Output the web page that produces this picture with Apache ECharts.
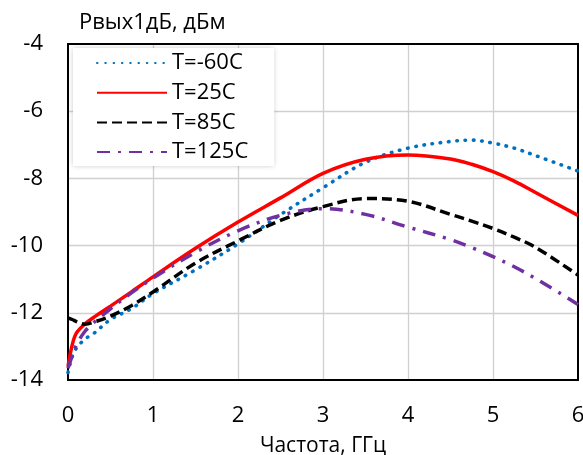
<!DOCTYPE html>
<html>
<head>
<meta charset="utf-8">
<script src="https://cdn.jsdelivr.net/npm/echarts@6/dist/echarts.min.js"></script>
<style>
  html, body { margin: 0; padding: 0; background: #fff; }
  #chart { width: 583px; height: 455px; }
</style>
</head>
<body>
<div id="chart"></div>
<script>
// Frequency points, GHz
const freq = [0, 0.05, 0.1, 0.2, 0.3, 0.5, 0.75, 1, 1.5, 2, 2.5, 3, 3.5, 4, 4.5, 4.75, 5, 5.25, 5.5, 6];

// Output 1 dB compression point, dBm, per temperature
const pMinus60 = [-13.78, -13.3, -13.05, -12.78, -12.62, -12.2, -11.87, -11.43, -10.72, -9.95, -9.08, -8.28, -7.52, -7.1, -6.9, -6.86, -6.95, -7.1, -7.32, -7.78];
const p25      = [-13.6, -12.95, -12.6, -12.33, -12.14, -11.8, -11.37, -10.93, -10.08, -9.3, -8.58, -7.85, -7.43, -7.3, -7.42, -7.58, -7.8, -8.08, -8.42, -9.1];
const p85      = [-12.15, -12.2, -12.26, -12.34, -12.28, -12.1, -11.78, -11.38, -10.52, -9.86, -9.25, -8.84, -8.6, -8.68, -9.07, -9.27, -9.49, -9.75, -10.05, -10.88];
const p125     = [-13.65, -13.28, -12.95, -12.55, -12.3, -11.88, -11.4, -10.97, -10.2, -9.56, -9.1, -8.9, -9.07, -9.45, -9.82, -10.06, -10.33, -10.63, -10.98, -11.75];

const seriesNames = ['T=-60C', 'T=25C', 'T=85C', 'T=125C'];
const xTicks = [0, 1, 2, 3, 4, 5, 6];
const yTicks = [-14, -12, -10, -8, -6, -4];

const FONT = 'Open Sans';
const pairs = (ys) => freq.map((x, i) => [x, ys[i]]);

const chart = echarts.init(document.getElementById('chart'), null, { renderer: 'canvas' });

// Plain black frame lines on the top and right edges of the plot
const frameAxis = {
  show: true,
  axisLine: { show: true, onZero: false, lineStyle: { color: '#000', width: 2 } },
  axisTick: { show: false },
  axisLabel: { show: false },
  splitLine: { show: false }
};

chart.setOption({
  animation: false,
  backgroundColor: '#fff',
  title: {
    text: 'Рвых1дБ, дБм',
    left: 74, top: 7,
    textStyle: { fontFamily: FONT, fontSize: 22, fontWeight: 'normal', color: '#000' }
  },
  grid: { left: 68, right: 5, top: 44, bottom: 75, containLabel: false, outerBoundsMode: 'none' },
  legend: {
    orient: 'vertical',
    left: 73, top: 48,
    padding: [4, 26, 3, 23],
    itemWidth: 70, itemHeight: 22, itemGap: 7.7,
    backgroundColor: '#fff',
    shadowBlur: 5, shadowColor: 'rgba(0,0,0,0.25)',
    itemStyle: { opacity: 0 },
    textStyle: { fontFamily: FONT, fontSize: 22, color: '#000' },
    data: seriesNames
  },
  xAxis: [
    {
      type: 'value', min: 0, max: 6, interval: 1,
      name: 'Частота, ГГц', nameLocation: 'middle', nameGap: 56,
      nameTextStyle: { fontFamily: FONT, fontSize: 21, color: '#000' },
      axisLine: { show: true, onZero: false, lineStyle: { color: '#000', width: 2 } },
      axisTick: { show: false },
      axisLabel: { fontFamily: FONT, fontSize: 22, color: '#000', margin: 25,
                   formatter: (v) => xTicks.includes(v) ? String(v) : '' },
      splitLine: { show: true, showMinLine: false, showMaxLine: false,
                   lineStyle: { color: '#d0d0d0', width: 1.3 } }
    },
    Object.assign({ type: 'value', position: 'top', min: 0, max: 6, interval: 1 }, frameAxis)
  ],
  yAxis: [
    {
      type: 'value', min: -14, max: -4, interval: 2,
      axisLine: { show: true, onZero: false, lineStyle: { color: '#000', width: 2 } },
      axisTick: { show: false },
      axisLabel: { fontFamily: FONT, fontSize: 22, color: '#000', margin: 25,
                   formatter: (v) => yTicks.includes(v) ? String(v) : '' },
      splitLine: { show: true, showMinLine: false, showMaxLine: false,
                   lineStyle: { color: '#d0d0d0', width: 1.3 } }
    },
    Object.assign({ type: 'value', position: 'right', min: -14, max: -4, interval: 2 }, frameAxis)
  ],
  series: [
    {
      name: seriesNames[0], type: 'line', smooth: 0.35, symbol: 'none',
      data: pairs(pMinus60),
      lineStyle: { color: '#0070c0', width: 3.6, type: [0.5, 7.8], cap: 'round' },
      itemStyle: { color: '#0070c0' }
    },
    {
      name: seriesNames[1], type: 'line', smooth: 0.35, symbol: 'none',
      data: pairs(p25),
      lineStyle: { color: '#ff0000', width: 3.5, type: 'solid' },
      itemStyle: { color: '#ff0000' }
    },
    {
      name: seriesNames[2], type: 'line', smooth: 0.35, symbol: 'none',
      data: pairs(p85),
      lineStyle: { color: '#000000', width: 3.5, type: [10, 5] },
      itemStyle: { color: '#000000' }
    },
    {
      name: seriesNames[3], type: 'line', smooth: 0.35, symbol: 'none',
      data: pairs(p125),
      lineStyle: { color: '#7030a0', width: 3.5, type: [13, 8, 3, 8] },
      itemStyle: { color: '#7030a0' }
    }
  ]
});
</script>
</body>
</html>
